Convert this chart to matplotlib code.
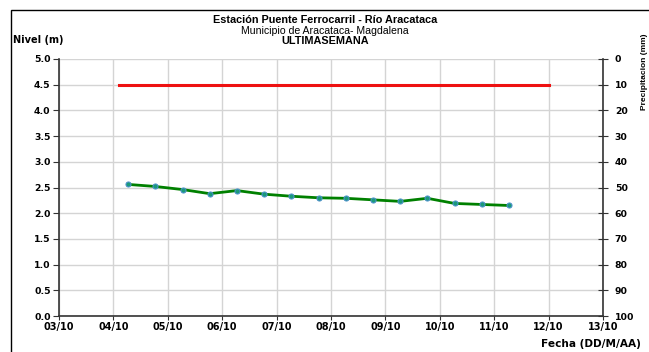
import matplotlib
matplotlib.use("Agg")
import matplotlib.pyplot as plt
import matplotlib.dates as mdates
import pandas as pd
from matplotlib.patches import Rectangle

plt.rcParams['font.family'] = ['Liberation Sans', 'DejaVu Sans']

# Data
times = ["2023-10-04 06:30", "2023-10-04 18:30", "2023-10-05 06:30", "2023-10-05 18:30",
         "2023-10-06 06:30", "2023-10-06 18:30", "2023-10-07 06:30", "2023-10-07 18:30",
         "2023-10-08 06:30", "2023-10-08 18:30", "2023-10-09 06:30", "2023-10-09 18:30",
         "2023-10-10 06:30", "2023-10-10 18:30", "2023-10-11 06:30"]
nivel = [2.56, 2.52, 2.46, 2.38, 2.44, 2.37, 2.33, 2.30, 2.29, 2.26, 2.23, 2.29, 2.19, 2.17, 2.15]
umbral_times = ["2023-10-04 02:30", "2023-10-12 00:00"]
umbral = [4.5, 4.5]
xlim_dates = ["2023-10-03", "2023-10-13"]
y_ticks = [0.0, 0.5, 1.0, 1.5, 2.0, 2.5, 3.0, 3.5, 4.0, 4.5, 5.0]
precip_ticks = [0, 10, 20, 30, 40, 50, 60, 70, 80, 90, 100]

t = pd.to_datetime(times)
tu = pd.to_datetime(umbral_times)
xl = pd.to_datetime(xlim_dates)

WIDE = ['DejaVu Sans']

fig = plt.figure(figsize=(6.49, 3.52), dpi=100)
ax = fig.add_axes([59/649, 1-316/352, (603-59)/649, (316-59)/352])

# frame around chart (clipped at right/bottom)
fig.patches.append(Rectangle((11/649, -0.1), 1.2, 1-10/352+0.1, transform=fig.transFigure,
                             fill=False, edgecolor='black', linewidth=1.0))

ax.plot(tu, umbral, color='#ee1111', linewidth=2.2, zorder=3)
ax.plot(t, nivel, color='#008000', linewidth=2.0, marker='o', markersize=3.6,
        markerfacecolor='#1a9a7a', markeredgecolor='#4a90c8', markeredgewidth=0.8, zorder=4)

ax.set_xlim(xl[0], xl[1])
ax.set_ylim(0, 5)
ax.set_yticks(y_ticks)
ax.set_yticklabels([f"{v:.1f}" for v in y_ticks], fontsize=6.7, fontweight='bold', family=WIDE)
ax.xaxis.set_major_locator(mdates.DayLocator())
ax.xaxis.set_major_formatter(mdates.DateFormatter('%d/%m'))
for lab in ax.get_xticklabels():
    lab.set_fontsize(7)
    lab.set_fontweight('bold')
    lab.set_family(WIDE)
ax.tick_params(axis='x', length=3, pad=1, color='#333333')
ax.tick_params(axis='y', length=4, pad=2, color='#333333')
ax.grid(True, color='#d4d4d4', linewidth=1.0, zorder=0)
ax.set_axisbelow(True)
for s in ['top', 'right']:
    ax.spines[s].set_visible(False)
for s in ['left', 'bottom']:
    ax.spines[s].set_color('#333333')
    ax.spines[s].set_linewidth(1.2)

ax2 = ax.twinx()
ax2.set_ylim(100, 0)
ax2.set_yticks(precip_ticks)
ax2.set_yticklabels([str(v) for v in precip_ticks], fontsize=6.7, fontweight='bold', family=WIDE)
ax2.tick_params(axis='y', direction='inout', length=7, pad=5, color='#333333')
for s in ['top', 'left', 'bottom']:
    ax2.spines[s].set_visible(False)
ax2.spines['right'].set_color('#333333')
ax2.spines['right'].set_linewidth(1.2)

fig.text(325/649, 1-20/352, "Estación Puente Ferrocarril - Río Aracataca", ha='center', va='center',
         fontsize=7.8, fontweight='bold')
fig.text(325/649, 1-31.5/352, "Municipio de Aracataca- Magdalena", ha='center', va='center', fontsize=7.6)
fig.text(325/649, 1-41.5/352, "ULTIMASEMANA", ha='center', va='center', fontsize=7.8, fontweight='bold')
fig.text(13/649, 1-40/352, "Nivel (m)", ha='left', va='center', fontsize=7, fontweight='bold', family=WIDE)
fig.text(641/649, 1-344/352, "Fecha (DD/M/AA)", ha='right', va='center', fontsize=7.6, fontweight='bold',
         family=WIDE)
fig.text(641/649, 1-72/352, "Precipitacion (mm)", ha='left', va='center', rotation=90,
         fontsize=6, fontweight='bold')

fig.savefig("out.png", dpi=100)
